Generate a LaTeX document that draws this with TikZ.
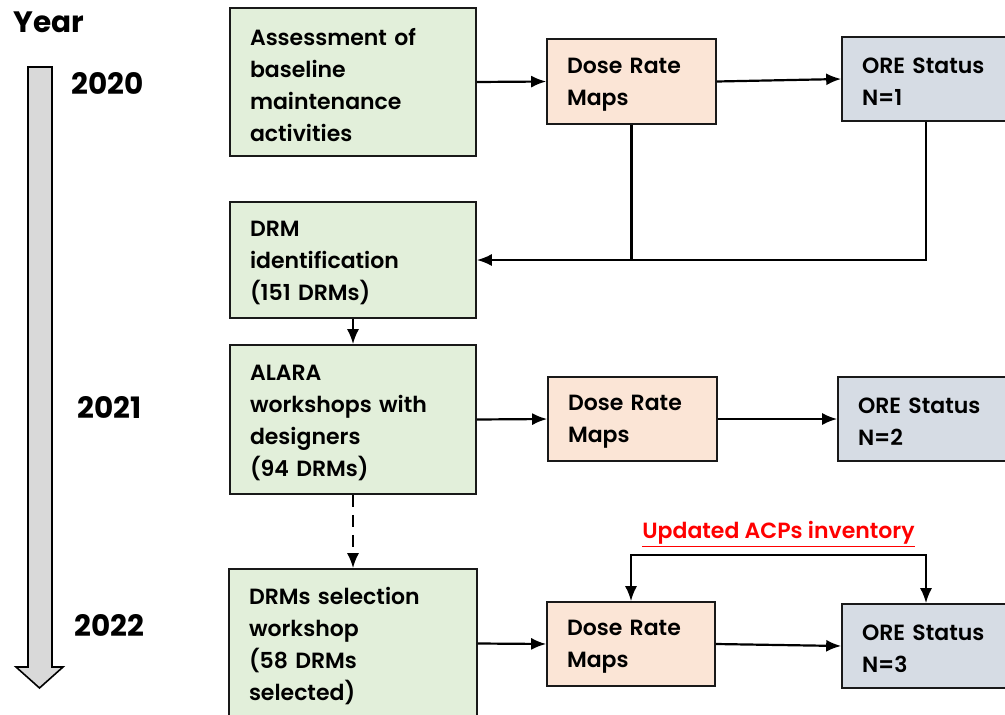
\documentclass[tikz,border=0pt]{standalone}
\usepackage{fontspec}
\setmainfont{Poppins}[UprightFont=* SemiBold, BoldFont=* Bold]
\usetikzlibrary{arrows.meta,calc}
\definecolor{greenbox}{HTML}{E2EFDA}
\definecolor{dosebox}{HTML}{FBE5D6}
\definecolor{orebox}{HTML}{D6DCE4}
\definecolor{timeline}{HTML}{D9D9D9}
\tikzset{
  flowtip/.tip={Latex[length=15pt,width=12pt]},
  box/.style={draw=black!90, line width=1.6pt, inner sep=0pt, anchor=center},
  boxtext/.style={inner sep=0pt, align=left, font=\fontsize{22}{32}\selectfont, anchor=center},
  greenstep/.style={box, fill=greenbox},
  dosestep/.style={box, fill=dosebox},
  orestep/.style={box, fill=orebox},
  flow/.style={line width=2.2pt, -{flowtip}},
  plain/.style={line width=2.2pt},
  yearlabel/.style={font=\fontsize{29.5}{32}\selectfont\bfseries, inner sep=0pt},
}
\newcommand{\boxnode}[7]{%
  % style, name, center x, center y, width, height, text
  \node[#1, minimum width=#5pt, minimum height=#6pt] (#2) at (#3,#4) {};
  \node[boxtext, text width=#5pt-40pt] (#2-text) at ([yshift=-3pt]#2.center) {#7};}
\begin{document}
\begin{tikzpicture}[x=1pt,y=-1pt]
\useasboundingbox (0,0) rectangle (1005,715);
\begin{scope}
\clip (0,0) rectangle (1005,715);

% timeline arrow on the left
\draw[fill=timeline, line width=1.6pt, line join=miter]
  (28,67) -- (52,67) -- (52,667) -- (63,667) -- (39.5,688) -- (16,667) -- (28,667) -- cycle;
\node[yearlabel] (year) at (49,22) {Year};
\node[yearlabel] (y2020) at (107.5,83) {2020};
\node[yearlabel] (y2021) at (109.5,407) {2021};
\node[yearlabel] (y2022) at (109.5,625) {2022};

% process boxes
\boxnode{greenstep}{g1}{353}{82}{246}{148}{Assessment of\\baseline\\maintenance\\activities}
\boxnode{greenstep}{g2}{353}{260}{246}{116}{DRM\\identification\\(151 DRMs)}
\boxnode{greenstep}{g3}{353}{419.5}{246}{149}{ALARA\\workshops with\\designers\\(94 DRMs)}
\boxnode{greenstep}{g4}{353}{643.5}{248}{149}{DRMs selection\\workshop\\(58 DRMs\\selected)}

\boxnode{dosestep}{d1}{631.5}{81.5}{169}{85}{Dose Rate\\Maps}
\boxnode{dosestep}{d2}{632.5}{419}{169}{84}{Dose Rate\\Maps}
\boxnode{dosestep}{d3}{631}{644}{168}{84}{Dose Rate\\Maps}

\boxnode{orestep}{o1}{926}{79}{168}{84}{ORE Status\\N=1}
\boxnode{orestep}{o2}{922}{419}{168}{84}{ORE Status\\N=2}
\boxnode{orestep}{o3}{926}{646}{168}{84}{ORE Status\\N=3}

% connectors, 2020
\draw[flow] (g1.east) -- (d1.west);
\draw[flow] (d1.east) -- (o1.west);
\coordinate (j1) at (d1.south |- g2.east);
\draw[plain] (d1.south) -- (j1);
\draw[flow] (o1.south) |- (g2.east);
\draw[flow] (g2.south) -- (g3.north);

% connectors, 2021
\draw[flow] (g3.east) -- (d2.west);
\draw[flow] (d2.east) -- (o2.west);
\draw[flow, dash pattern=on 12pt off 8pt] (g3.south) -- (g4.north);

% connectors, 2022
\draw[flow] (g4.east) -- (d3.west);
\draw[flow] (d3.east) -- (o3.west);
\coordinate (fb) at (778.5,555);
\draw[plain, {flowtip}-{flowtip}] (d3.north) |- (fb) -| (o3.north);
\node[text=red, font=\fontsize{22}{26}\selectfont, inner sep=0pt] (acp) at (778.5,534)
  {\underline{Updated ACPs inventory}};
\end{scope}
\end{tikzpicture}
\end{document}
